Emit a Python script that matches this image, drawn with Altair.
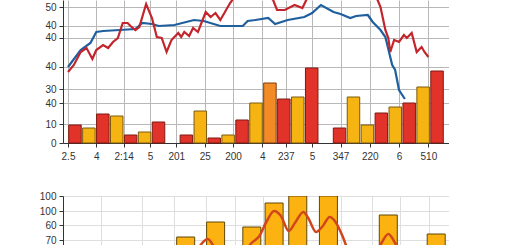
import altair as alt
import pandas as pd

# ---------------- top panel data ----------------
bar_slot = [0, 1, 2, 3, 4, 5, 6, 8, 9, 10, 11, 12, 13, 14, 15, 16, 17, 19, 20, 21, 22, 23, 24, 25, 26]
bar_value = [18, 15, 29, 27, 8, 11, 21, 8, 32, 5, 8, 23, 40, 60, 44, 46, 75, 15, 46, 18, 30, 36, 40, 56, 72]
bar_kind = ["red", "yellow", "red", "yellow", "red", "yellow", "red", "red", "yellow", "red", "yellow",
            "red", "yellow", "orange", "red", "yellow", "red", "red", "yellow", "yellow", "red", "yellow",
            "red", "yellow", "red"]

blue_x = [0, 0.91, 1.61, 2.03, 2.52, 3.72, 4.84, 5.33, 6.03, 6.52, 7.64, 9.05, 9.75, 10.94, 11.85, 12.55,
          12.9, 13.46, 14.38, 14.87, 15.78, 16.97, 17.53, 18.16, 19.07, 19.57, 20.27, 20.69, 21.53, 21.88,
          22.44, 22.79, 23.07, 23.28, 23.49, 23.77, 24.19]
blue_y = [76, 93, 100, 111, 112, 113, 114, 120, 119, 117, 118, 123, 122, 117, 117, 117,
          122, 123, 125, 119, 123, 126, 130, 138, 131, 129, 125, 127, 128, 121,
          113, 106, 90, 78, 73, 53, 44]

red_x = [0, 0.42, 0.91, 1.33, 1.75, 2.03, 2.52, 2.88, 3.23, 3.58, 3.93, 4.28, 4.49, 4.84, 5.12, 5.61,
         6.03, 6.38, 6.73, 7.08, 7.43, 7.92, 8.13, 8.35, 8.7, 8.98, 9.33, 9.89, 10.24, 10.59, 10.94,
         11.64, 12.34, 13.39, 14.31, 14.73, 15.01, 15.57, 16.27, 16.83, 17.11, 17.6, 20.06, 22.02,
         22.23, 22.44, 22.79, 23.0, 23.14, 23.42, 23.77, 24.12, 24.33, 24.68, 25.04, 25.39, 25.6, 25.88]
red_y = [71, 78, 91, 95, 84, 93, 98, 95, 101, 105, 120, 120, 117, 113, 116, 139,
         125, 106, 105, 91, 103, 110, 106, 111, 107, 115, 111, 131, 126, 130, 123,
         140, 153, 158, 148, 143, 133, 133, 138, 135, 143, 158, 163, 148,
         143, 136, 113, 105, 91, 103, 101, 108, 105, 110, 91, 96, 91, 86]

top_xticks = [0, 2.03, 4.0, 5.89, 7.78, 9.82, 11.85, 13.96, 15.64, 17.53, 19.57, 21.67, 23.77, 25.88]
top_xlabels = ["2.5", "4", "2:14", "5", "201", "25", "200", "4", "237", "5", "347", "220", "6", "510"]
top_yticks = [0, 19, 39.7, 53.7, 76.3, 105.3, 117.3, 135.7]
top_ylabels = ["0", "10", "40", "30", "40", "40", "40", "50"]

# ---------------- bottom panel data ----------------
bot_bar_x = [8.45, 10.6, 13.2, 14.8, 16.5, 18.7, 23.0, 26.44]
bot_bar_v = [59, 74, 69, 93, 100, 100, 81, 62]
bot_line_x = [8.13, 9.19, 10.03, 10.59, 11.5, 12.48, 13.18, 13.74, 14.24, 14.8, 15.29, 15.85, 16.34, 16.9,
              17.25, 17.81, 18.3, 18.79, 19.21, 19.71, 20.2, 20.9, 21.81, 22.51, 23.0, 23.49, 24.12, 24.96]
bot_line_v = [27, 45, 57, 47, 35, 41, 53, 60, 74, 85, 80, 65, 74, 84,
              78, 64, 70, 79, 74, 60, 42, 25, 35, 53, 62, 53, 35, 25]
bot_xgrid = [2.38, 5.33, 7.64, 9.89, 11.99, 14.03, 16.48, 19.57, 21.81, 23.84, 25.95]
bot_yticks = [100, 85, 71, 56]
bot_ylabels = ["100", "100", "60", "70"]


def label_expr(values, labels):
    expr = "''"
    for v, l in reversed(list(zip(values, labels))):
        expr = f"abs(datum.value - {v}) < 0.01 ? '{l}' : ({expr})"
    return expr


W = 386
FONT = "Liberation Sans"

bars_df = pd.DataFrame({"x": [s + 0.5 for s in bar_slot], "v": bar_value, "kind": bar_kind})
blue_df = pd.DataFrame({"x": blue_x, "v": blue_y})
red_df = pd.DataFrame({"x": red_x, "v": red_y})

xs_top = alt.Scale(domain=[0, 27], nice=False, zero=False)
ys_top = alt.Scale(domain=[0, 143], nice=False)

x_axis_top = alt.Axis(values=top_xticks, labelExpr=label_expr(top_xticks, top_xlabels), title=None,
                      grid=True, gridColor="#b8b8b8", tickSize=4, labelPadding=4, domainColor="#333",
                      tickColor="#333", labelColor="#333", labelFontSize=10, labelFont=FONT,
                      labelOverlap=False, labelFlush=False, tickCount=100)
y_axis_top = alt.Axis(values=top_yticks, labelExpr=label_expr(top_yticks, top_ylabels), title=None,
                      grid=True, gridColor="#b8b8b8", tickSize=4, labelPadding=3, domainColor="#333",
                      tickColor="#333", labelColor="#333", labelFontSize=10, labelFont=FONT,
                      labelOverlap=False, labelFlush=False, tickCount=100)

top_bars = alt.Chart(bars_df).mark_bar(size=12.5, strokeWidth=1).encode(
    x=alt.X("x:Q", scale=xs_top, axis=x_axis_top),
    y=alt.Y("v:Q", scale=ys_top, axis=y_axis_top),
    fill=alt.Fill("kind:N", scale=alt.Scale(domain=["red", "yellow", "orange"],
                                            range=["#E2332A", "#F6B412", "#F28A26"]), legend=None),
    stroke=alt.Stroke("kind:N", scale=alt.Scale(domain=["red", "yellow", "orange"],
                                                range=["#7E1A12", "#7A5A12", "#7E3A12"]), legend=None),
)
blue_line = alt.Chart(blue_df).mark_line(color="#1F5F9E", strokeWidth=2.2, clip=True).encode(
    x=alt.X("x:Q", scale=xs_top), y=alt.Y("v:Q", scale=ys_top))
red_line = alt.Chart(red_df).mark_line(color="#C2262C", strokeWidth=2.2, clip=True).encode(
    x=alt.X("x:Q", scale=xs_top), y=alt.Y("v:Q", scale=ys_top))

top = alt.layer(top_bars, blue_line, red_line).resolve_scale(fill="independent", stroke="independent").properties(width=W, height=143)

# bottom
bb_df = pd.DataFrame({"x": bot_bar_x, "v": bot_bar_v})
bl_df = pd.DataFrame({"x": bot_line_x, "v": bot_line_v})
xs_bot = alt.Scale(domain=[0, 27], nice=False, zero=False)
ys_bot = alt.Scale(domain=[0, 100], nice=False)
x_axis_bot = alt.Axis(values=bot_xgrid, labels=False, ticks=False, title=None, grid=True,
                      gridColor="#dedede", domainColor="#333", tickCount=100)
y_axis_bot = alt.Axis(values=bot_yticks, labelExpr=label_expr(bot_yticks, bot_ylabels), title=None,
                      grid=True, gridColor="#dedede", tickSize=4, labelPadding=3, domainColor="#333",
                      tickColor="#333", labelColor="#333", labelFontSize=10, labelFont=FONT,
                      labelOverlap=False, labelFlush=False, tickCount=100)
bot_bars = alt.Chart(bb_df).mark_bar(size=18, color="#FCB311", stroke="#5E4808", strokeWidth=1, clip=True).encode(
    x=alt.X("x:Q", scale=xs_bot, axis=x_axis_bot),
    y=alt.Y("v:Q", scale=ys_bot, axis=y_axis_bot))
bot_line = alt.Chart(bl_df).mark_line(color="#D2461C", strokeWidth=2.5, interpolate="monotone", clip=True).encode(
    x=alt.X("x:Q", scale=xs_bot), y=alt.Y("v:Q", scale=ys_bot))
bottom = alt.layer(bot_bars, bot_line).properties(width=W, height=100)

chart = alt.vconcat(top, bottom, spacing=30).properties(
    padding={"left": 39, "top": 0, "right": 0, "bottom": 0},
    background="white",
).configure_view(stroke=None)

chart.save("out.html", embed_options={"renderer": "svg", "actions": False})
